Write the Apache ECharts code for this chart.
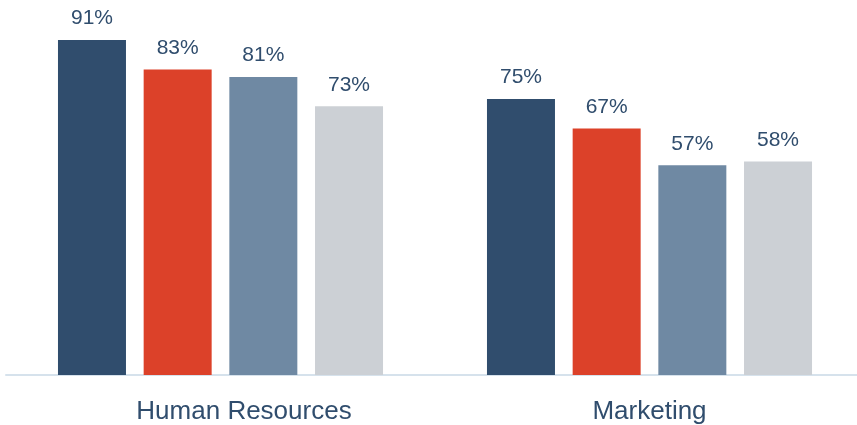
<!DOCTYPE html>
<html>
<head>
<meta charset="utf-8">
<script src="https://cdn.jsdelivr.net/npm/echarts@6/dist/echarts.min.js"></script>
<style>
  html, body { margin: 0; padding: 0; background: #fff; overflow: hidden; }
  #chart { width: 866px; height: 425px; }
</style>
</head>
<body>
<div id="chart"></div>
<script>
const categories = ["Human Resources", "Marketing"];
const seriesA = [91, 75];
const seriesB = [83, 67];
const seriesC = [81, 57];
const seriesD = [73, 58];
const colors = ["#304d6d", "#dc4129", "#6f89a3", "#ccd0d5"];
// the first category label sits a little right of its bar group
const labelShift = [47, 0];

const chart = echarts.init(document.getElementById("chart"));
chart.setOption({
  animation: false,
  textStyle: { fontFamily: "Liberation Sans, Arial, sans-serif" },
  grid: { left: 6, right: 2, top: 7, bottom: 49, containLabel: false },
  xAxis: {
    type: "category",
    data: categories.map((name, i) => ({
      value: name,
      textStyle: { padding: [0, 0, 0, labelShift[i]] },
    })),
    axisTick: { show: false },
    axisLine: { lineStyle: { color: "#d6e2ec", width: 2 } },
    axisLabel: { color: "#304d6d", fontSize: 26, margin: 24 },
  },
  yAxis: {
    type: "value",
    min: 0,
    max: 100,
    show: false,
    splitLine: { show: false },
  },
  series: [seriesA, seriesB, seriesC, seriesD].map((data, i) => ({
    type: "bar",
    data: data,
    barWidth: 68,
    barGap: "26%",
    itemStyle: { color: colors[i] },
    label: {
      show: true,
      position: "top",
      distance: 11,
      formatter: "{c}%",
      color: "#304d6d",
      fontSize: 21,
    },
  })),
});
</script>
</body>
</html>
